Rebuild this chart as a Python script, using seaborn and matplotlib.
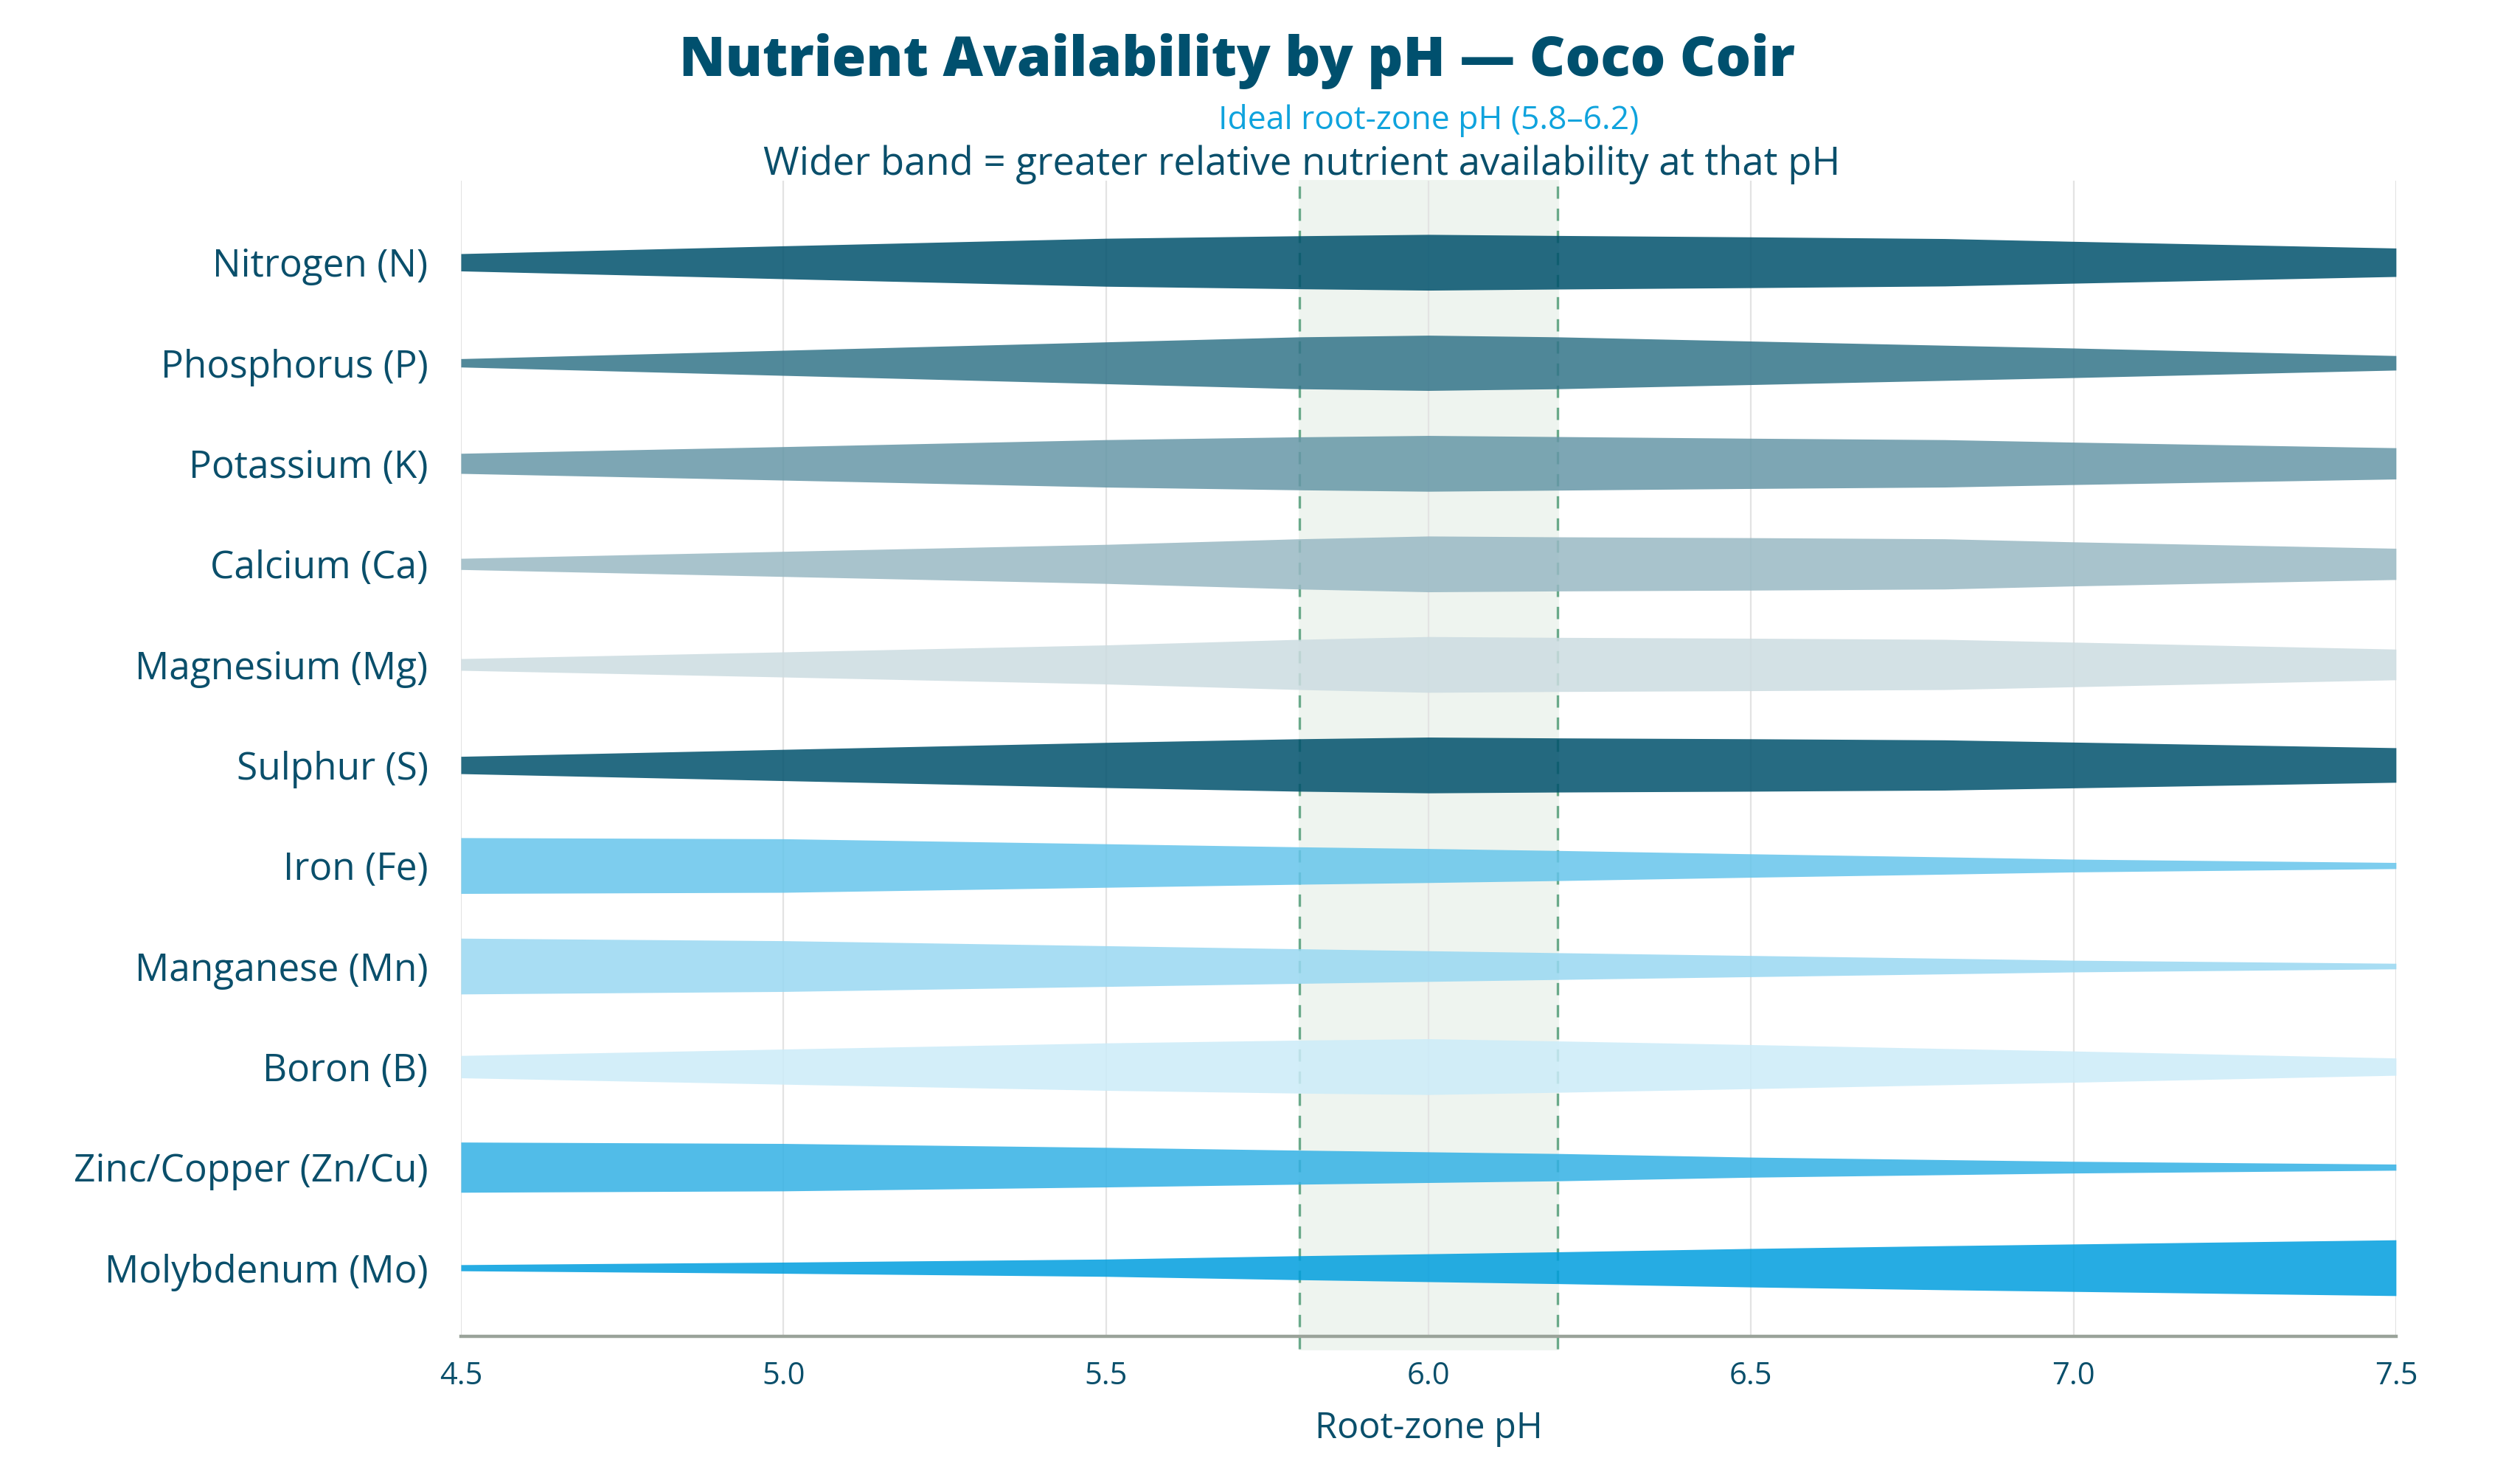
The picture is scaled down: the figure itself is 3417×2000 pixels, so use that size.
import matplotlib
matplotlib.use("Agg")
import matplotlib.pyplot as plt
import matplotlib.transforms as mtransforms
import numpy as np
import pandas as pd
import seaborn as sb

# pH points where availability was read
ph = [4.5, 5.0, 5.5, 5.8, 6.0, 6.2, 6.5, 6.8, 7.0, 7.5]

nutrients = [
    "Nitrogen (N)", "Phosphorus (P)", "Potassium (K)", "Calcium (Ca)",
    "Magnesium (Mg)", "Sulphur (S)", "Iron (Fe)", "Manganese (Mn)",
    "Boron (B)", "Zinc/Copper (Zn/Cu)", "Molybdenum (Mo)",
]

nitrogen = [0.31, 0.59, 0.86, 0.95, 1.00, 0.96, 0.91, 0.85, 0.75, 0.51]
phosphorus = [0.15, 0.45, 0.75, 0.93, 0.99, 0.93, 0.78, 0.63, 0.53, 0.26]
potassium = [0.36, 0.60, 0.85, 0.95, 1.00, 0.96, 0.90, 0.85, 0.76, 0.56]
calcium = [0.20, 0.45, 0.70, 0.90, 1.00, 0.97, 0.94, 0.90, 0.79, 0.56]
magnesium = [0.21, 0.45, 0.70, 0.90, 1.00, 0.97, 0.94, 0.90, 0.80, 0.55]
sulphur = [0.31, 0.56, 0.81, 0.94, 1.00, 0.97, 0.94, 0.90, 0.82, 0.62]
iron = [1.00, 0.96, 0.78, 0.67, 0.61, 0.54, 0.42, 0.31, 0.23, 0.11]
manganese = [1.00, 0.91, 0.73, 0.62, 0.55, 0.48, 0.38, 0.28, 0.21, 0.10]
boron = [0.40, 0.63, 0.85, 0.95, 1.00, 0.92, 0.79, 0.65, 0.56, 0.31]
zinc_copper = [0.90, 0.85, 0.71, 0.61, 0.55, 0.49, 0.36, 0.27, 0.21, 0.11]
molybdenum = [0.11, 0.20, 0.31, 0.43, 0.50, 0.57, 0.69, 0.79, 0.85, 1.00]

series = [nitrogen, phosphorus, potassium, calcium, magnesium, sulphur,
          iron, manganese, boron, zinc_copper, molybdenum]

xticks = [4.5, 5.0, 5.5, 6.0, 6.5, 7.0, 7.5]
ideal_lo, ideal_hi = 5.8, 6.2

colors = ["#00516c", "#337489", "#6697a7", "#99b9c4", "#ccdce1", "#00516c",
          "#66c5eb", "#99d8f2", "#ccecf9", "#33b1e5", "#009ede"]

DARK = "#0a4f6b"
HALF = 0.2775  # half band height (rows) at availability 1.0

# long-form table
rows = []
for i, (name, vals) in enumerate(zip(nutrients, series)):
    for p, v in zip(ph, vals):
        rows.append({"nutrient": name, "row": i, "ph": p, "avail": v})
df = pd.DataFrame(rows)

sb.set_theme(style="white")
plt.rcParams['font.family'] = ['Open Sans', 'DejaVu Sans']

fig = plt.figure(figsize=(17.085, 10), dpi=200)
ax = fig.add_axes([0.1829, 0.094, 0.7679, 0.7835])

# ideal zone
ax.axvspan(ideal_lo, ideal_hi, ymin=-0.011, ymax=1, color="#eef4ef", zorder=0, clip_on=False)
for xv in (ideal_lo, ideal_hi):
    ax.axvline(xv, ymin=-0.011, ymax=1, color="#6aaa8a", lw=1.2, dashes=(5, 4), zorder=1, clip_on=False)

for xv in xticks:
    ax.axvline(xv, color="#e3e3e3", lw=0.8, zorder=0.5)

for i, name in enumerate(nutrients):
    d = df[df["nutrient"] == name]
    ax.fill_between(d["ph"], d["row"] - HALF * d["avail"], d["row"] + HALF * d["avail"],
                    color=colors[i], alpha=0.85, lw=0, zorder=2)

ax.set_xlim(4.5, 7.5)
ax.set_ylim(10.682, -0.812)
ax.set_yticks(range(len(nutrients)))
ax.set_yticklabels(nutrients)
ax.set_xticks(xticks)
ax.set_xticklabels(["%.1f" % t for t in xticks])
ax.tick_params(axis="y", length=0, pad=16, labelsize=18.5, labelcolor=DARK)
ax.tick_params(axis="x", length=0, pad=12, labelsize=15, labelcolor=DARK)
ax.set_xlabel("Root-zone pH", fontsize=17.5, color=DARK, labelpad=9)
ax.grid(False)

sb.despine(ax=ax, left=True, top=True, right=True)
ax.spines["bottom"].set_color("#9aa39a")
ax.spines["bottom"].set_linewidth(1.6)
ax.spines["bottom"].set_zorder(3)

fig.text(0.4908, 0.9483, "Nutrient Availability by pH \u2014 Coco Coir", ha="center", va="baseline",
         fontsize=27, fontweight="heavy", color="#00506e")
trans = mtransforms.blended_transform_factory(ax.transData, fig.transFigure)
ax.text(6.0, 0.9125, "Ideal root-zone pH (5.8\u20136.2)", transform=trans, ha="center", va="baseline",
        fontsize=16, color="#0fa3dd")
fig.text(0.5165, 0.8817, "Wider band = greater relative nutrient availability at that pH", ha="center",
         va="baseline", fontsize=19, color=DARK)

fig.savefig("out.png", dpi=200, facecolor="white")
